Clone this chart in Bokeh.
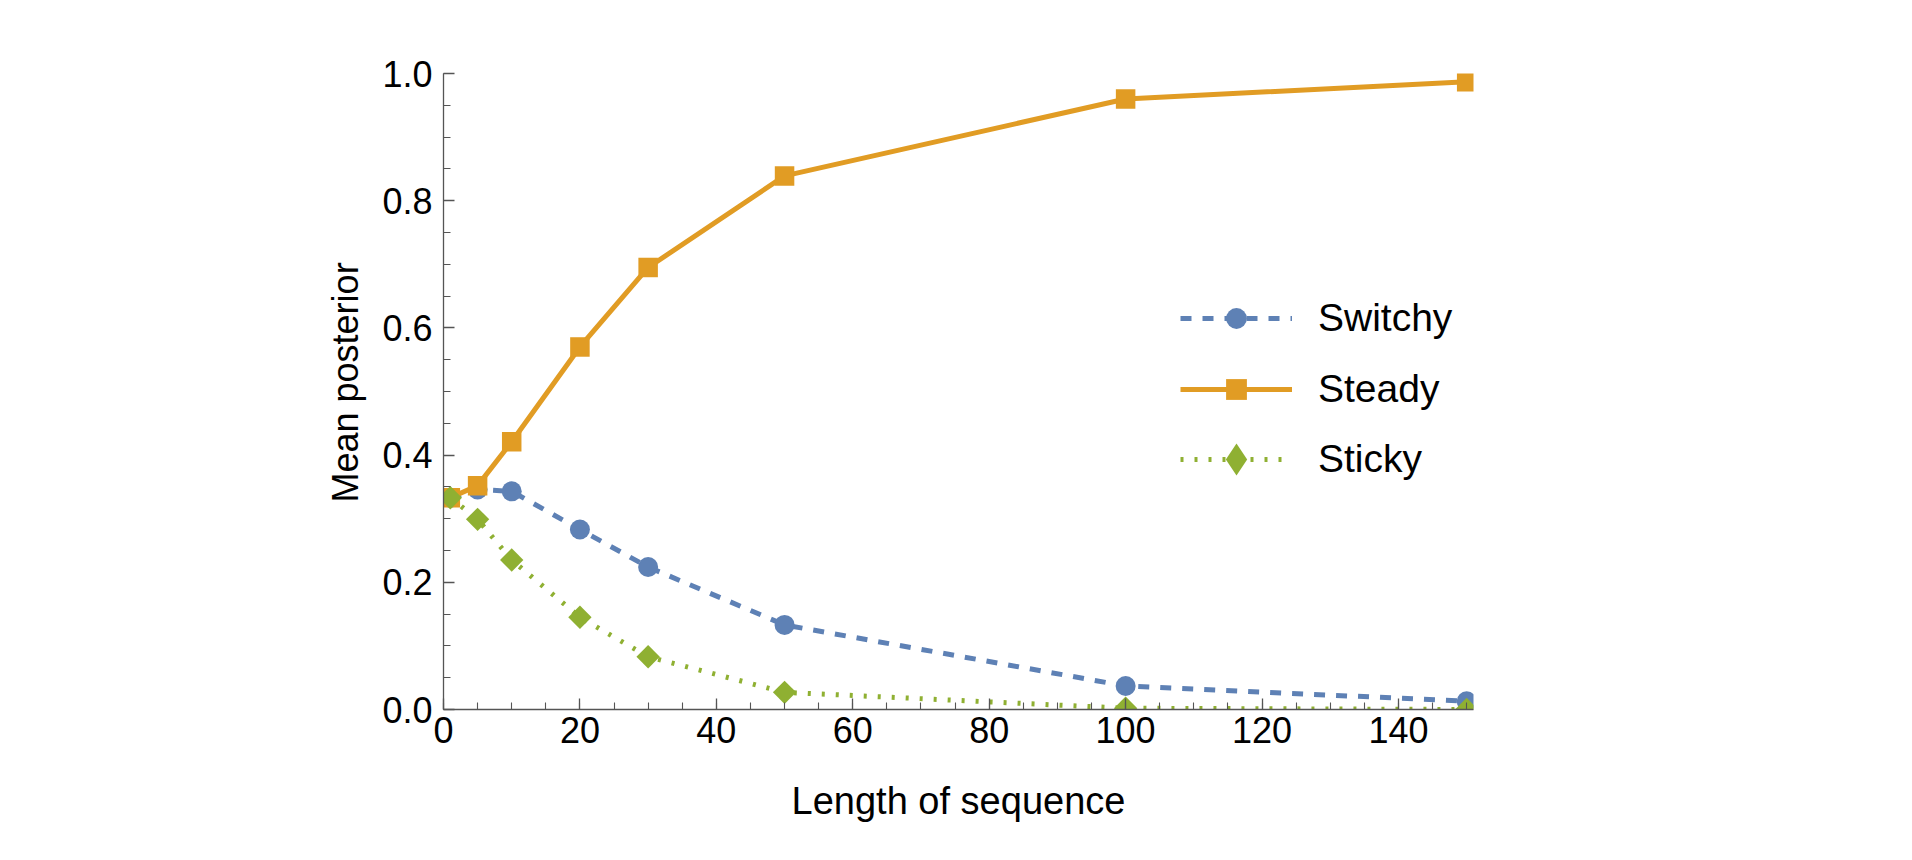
import math
from bokeh.plotting import figure
from bokeh.models import (SingleIntervalTicker, PrintfTickFormatter, Range1d,
                          Legend, LegendItem, Title)
from bokeh.embed import file_html
from bokeh.resources import INLINE

# ---- data ----
lengths = [1, 5, 10, 20, 30, 50, 100, 150]
switchy = [0.333, 0.346, 0.343, 0.283, 0.224, 0.133, 0.037, 0.013]
steady = [0.333, 0.352, 0.421, 0.570, 0.695, 0.839, 0.960, 0.987]
sticky = [0.333, 0.299, 0.235, 0.145, 0.083, 0.027, 0.002, 0.0]
series_names = ["Switchy", "Steady", "Sticky"]
x_title = "Length of sequence"
y_title = "Mean posterior"

BLUE = "#5E81B5"
ORANGE = "#E19C24"
GREEN = "#8FB032"
FONT = "Liberation Sans"
AX = "#555555"

p = figure(frame_width=1030, frame_height=636,
           x_range=Range1d(0, 151), y_range=Range1d(0, 1),
           min_border_left=443, min_border_top=73,
           min_border_right=430, min_border_bottom=140,
           output_backend="svg", toolbar_location=None,
           background_fill_color="white", border_fill_color="white")
p.grid.visible = False
p.outline_line_color = None

p.xaxis.ticker = SingleIntervalTicker(interval=20, num_minor_ticks=4)
p.yaxis.ticker = SingleIntervalTicker(interval=0.2, num_minor_ticks=4)
p.yaxis.formatter = PrintfTickFormatter(format="%.1f")

for ax in (p.xaxis[0], p.yaxis[0]):
    ax.axis_line_color = AX
    ax.axis_line_width = 1.3
    ax.major_tick_line_color = AX
    ax.minor_tick_line_color = AX
    ax.major_tick_line_width = 1.3
    ax.minor_tick_line_width = 1.1
    ax.major_tick_in = 11
    ax.major_tick_out = 0
    ax.minor_tick_in = 7
    ax.minor_tick_out = 0
    ax.major_label_text_font = FONT
    ax.major_label_text_font_size = "36px"
    ax.major_label_text_color = "black"
    ax.axis_label_text_font = FONT
    ax.axis_label_text_font_style = "normal"
    ax.axis_label_text_color = "black"

p.xaxis.major_label_standoff = 7
p.yaxis.major_label_standoff = 11

p.xaxis.axis_label = x_title
p.xaxis.axis_label_text_font_size = "38px"
p.xaxis.axis_label_standoff = 34

# y-axis title as a side title, positioned like the original
p.add_layout(Title(text=y_title, align="left", offset=207, standoff=27,
                   text_font=FONT, text_font_size="36px",
                   text_font_style="normal", text_color="black"), "left")

# ---- series ----
l1 = p.line(lengths, switchy, line_color=BLUE, line_width=5, line_dash="11 11")
m1 = p.scatter(lengths, switchy, marker="circle", size=20,
               fill_color=BLUE, line_color=None)
l2 = p.line(lengths, steady, line_color=ORANGE, line_width=5)
m2 = p.scatter(lengths, steady, marker="square", size=19.5,
               fill_color=ORANGE, line_color=None)
l3 = p.line(lengths, sticky, line_color=GREEN, line_width=5, line_dash="3 11")
# small diamond used as the legend sample, fully covered by the rotated squares
m3_key = p.scatter(lengths, sticky, marker="diamond", size=8,
                   fill_color=GREEN, line_color=None)
m3 = p.scatter(lengths, sticky, marker="square", size=16.5, angle=math.pi / 4,
               fill_color=GREEN, line_color=None)

common = dict(glyph_width=112, padding=0, margin=0, label_standoff=26,
              border_line_color=None, background_fill_alpha=0,
              label_text_font=FONT, label_text_font_size="39px",
              label_text_color="black")

legend1 = Legend(items=[LegendItem(label=series_names[0], renderers=[l1, m1]),
                        LegendItem(label=series_names[1], renderers=[l2, m2])],
                 location=(737, 294), glyph_height=52, label_height=52,
                 spacing=19, **common)
legend2 = Legend(items=[LegendItem(label=series_names[2], renderers=[l3, m3_key])],
                 location=(737, 210), glyph_height=80, label_height=80,
                 spacing=0, **common)
p.add_layout(legend1)
p.add_layout(legend2)

open("out.html", "w").write(file_html(p, INLINE))
